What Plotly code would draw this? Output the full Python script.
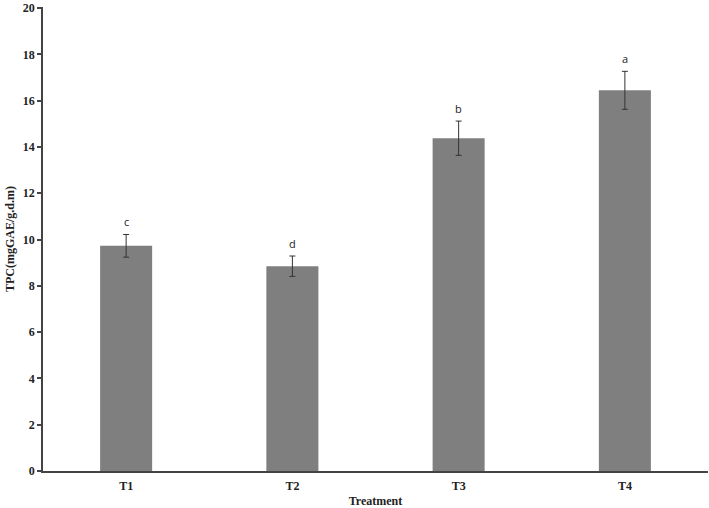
import plotly.graph_objects as go

categories = ["T1", "T2", "T3", "T4"]
tpc_values = [9.73, 8.85, 14.38, 16.45]
tpc_errors = [0.49, 0.44, 0.74, 0.82]
group_letters = ["c", "d", "b", "a"]
y_ticks = [0, 2, 4, 6, 8, 10, 12, 14, 16, 18, 20]

fig = go.Figure()
fig.add_trace(go.Bar(
    x=categories, y=tpc_values,
    marker=dict(color="#7f7f7f", line=dict(width=0)),
    width=0.313,
    error_y=dict(type="data", array=tpc_errors, visible=True,
                 color="#333333", thickness=1, width=3),
))

for c, v, e, l in zip(categories, tpc_values, tpc_errors, group_letters):
    fig.add_annotation(x=c, y=v + e, text=l, showarrow=False,
                       yanchor="bottom", yshift=3,
                       font=dict(family="Open Sans, Liberation Sans", size=11, color="#222222"))

fig.update_layout(
    width=709, height=508,
    margin=dict(l=43, r=1, t=5, b=35),
    plot_bgcolor="white", paper_bgcolor="white",
    showlegend=False,
    bargap=0.687,
    font=dict(family="Liberation Serif", size=12, color="#222222"),
)
fig.update_xaxes(
    showline=True, linecolor="#444444", linewidth=1.5,
    ticks="", showgrid=False, ticklabelstandoff=3,
    tickfont=dict(family="Liberation Serif", size=12, color="#222222", weight="bold"),
    title=dict(text="<b>Treatment</b>", standoff=5,
               font=dict(family="Liberation Serif", size=12, color="#222222")),
)
fig.update_yaxes(
    range=[0, 20.05], tickvals=y_ticks, ticklabeloverflow="allow",
    showline=True, linecolor="#444444", linewidth=1.5,
    ticks="outside", ticklen=4, tickcolor="#444444", tickwidth=1.5,
    showgrid=False, zeroline=False,
    tickfont=dict(family="Liberation Serif", size=12, color="#222222", weight="bold"),
    title=dict(text="<b>TPC(mgGAE/g.d.m)</b>", standoff=6,
               font=dict(family="Liberation Serif", size=12, color="#222222")),
)

fig.write_html("out.html", config={"displayModeBar": False},
               post_script="document.body.style.margin='0';")
